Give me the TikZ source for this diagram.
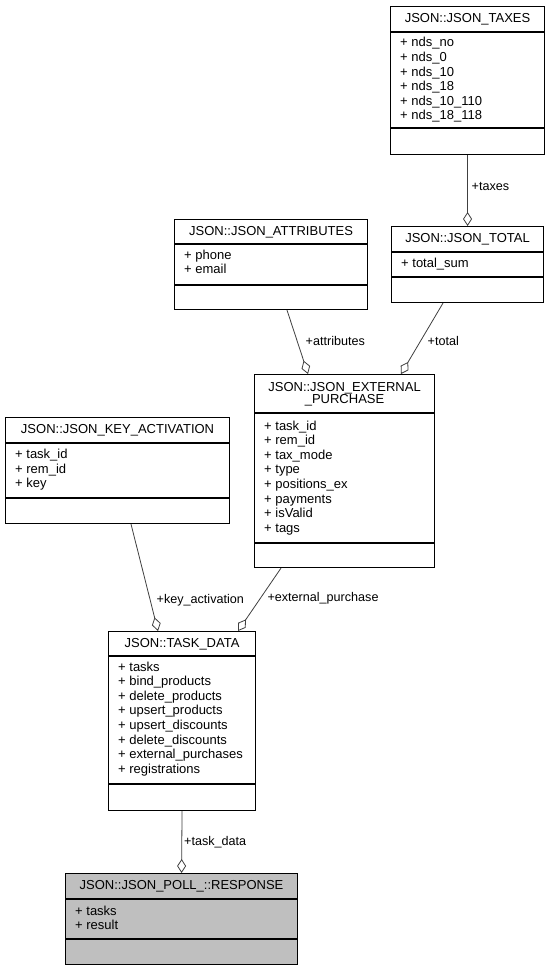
\documentclass[tikz,border=0pt]{standalone}
\usepackage{fontspec}
\setmainfont{Liberation Sans}
\usetikzlibrary{calc,arrows.meta}

\tikzset{
  frame/.style={draw=black, line width=1.1pt},
  classtitle/.style={inner sep=0pt, anchor=base, font=\fontsize{13}{11.5}\selectfont},
  member/.style={inner sep=0pt, anchor=base west, font=\fontsize{13}{14.6}\selectfont},
  rolelabel/.style={inner sep=0pt, anchor=base west, font=\fontsize{12.6}{14}\selectfont},
  assoc/.style={draw=black!75, line width=0.8pt,
    -{Diamond[open, length=14pt, width=9pt, line width=0.8pt]}},
}

% class box: name, x, y, width, height, title-row height, offset of the second divider
\newcommand\umlframe[8][]{%
  \node[frame, #1, minimum width=#5pt, minimum height=#6pt, anchor=north west,
        inner sep=0pt] (#2) at (#3,#4) {};
  \draw[frame] ($(#2.north west)+(0,#7)$) -- ($(#2.north east)+(0,#7)$);
  \draw[frame] ($(#2.north west)+(0,#8)$) -- ($(#2.north east)+(0,#8)$);
}
% member list: box name, baseline offset of the first entry, entries
\newcommand\umlmembers[3]{%
  \foreach \m [count=\i from 0] in {#3}
    \node[member] (#1-m\i) at ($(#1.north west)+(10,#2+14.6*\i)$) {+ \m};
}

\begin{document}
\begin{tikzpicture}[x=1pt, y=-1pt]
\useasboundingbox[fill=white] (0,0) rectangle (549,971);

% JSON_TAXES
\umlframe{taxes}{390}{6}{154}{148}{26}{122}
\node[classtitle] (taxes-t) at ($(taxes.north)+(0,16.5)$) {JSON::JSON\_TAXES};
\umlmembers{taxes}{41}{nds\_no, nds\_0, nds\_10, nds\_18, nds\_10\_110, nds\_18\_118}

% JSON_TOTAL
\umlframe{total}{391}{226}{152}{76}{26}{51}
\node[classtitle] (total-t) at ($(total.north)+(0,16.5)$) {JSON::JSON\_TOTAL};
\umlmembers{total}{41.5}{total\_sum}

% JSON_ATTRIBUTES
\umlframe{attr}{174}{219}{193}{90}{25}{66}
\node[classtitle] (attr-t) at ($(attr.north)+(0,16.5)$) {JSON::JSON\_ATTRIBUTES};
\umlmembers{attr}{40}{phone, email}

% JSON_EXTERNAL_PURCHASE
\umlframe{ext}{254}{374}{180}{193}{39}{169}
\node[classtitle] (ext-t1) at ($(ext.north)+(0,17.7)$) {JSON::JSON\_EXTERNAL};
\node[classtitle] (ext-t2) at ($(ext.north)+(0,29)$) {\_PURCHASE};
\umlmembers{ext}{56}{task\_id, rem\_id, tax\_mode, type, positions\_ex, payments, isValid, tags}

% JSON_KEY_ACTIVATION
\umlframe{key}{5}{417}{224}{106}{26}{81}
\node[classtitle] (key-t) at ($(key.north)+(0,16.5)$) {JSON::JSON\_KEY\_ACTIVATION};
\umlmembers{key}{41.5}{task\_id, rem\_id, key}

% TASK_DATA
\umlframe{task}{108}{631}{147}{179}{25}{153}
\node[classtitle] (task-t) at ($(task.north)+(0,16.3)$) {JSON::TASK\_DATA};
\umlmembers{task}{40}{tasks, bind\_products, delete\_products, upsert\_products, upsert\_discounts, delete\_discounts, external\_purchases, registrations}

% JSON_POLL_::RESPONSE
\umlframe[fill=black!25]{resp}{65}{873}{232}{91}{26}{66}
\node[classtitle] (resp-t) at ($(resp.north)+(0,16.5)$) {JSON::JSON\_POLL\_::RESPONSE};
\umlmembers{resp}{42}{tasks, result}

% associations (aggregation diamonds at the owning class)
\draw[assoc] (taxes.south) -- (total.north);
\draw[assoc] ($(attr.south west)+(113,0)$) -- ($(ext.north west)+(54,0)$);
\draw[assoc] ($(total.south west)+(52,0)$) -- ($(ext.north west)+(147,0)$);
\draw[assoc] ($(key.south west)+(126,0)$) -- ($(task.north west)+(50,0)$);
\draw[assoc] ($(ext.south west)+(27,0)$) -- ($(task.north west)+(130,0)$);
\draw[assoc] (task.south) -- (resp.north);

% role names
\node[rolelabel] (l-taxes) at (471.5,190.5) {+taxes};
\node[rolelabel] (l-attr) at (305.5,345) {+attributes};
\node[rolelabel] (l-total) at (427.5,345) {+total};
\node[rolelabel] (l-key) at (156.5,603.5) {+key\_activation};
\node[rolelabel] (l-ext) at (267.3,601) {+external\_purchase};
\node[rolelabel] (l-task) at (184,845) {+task\_data};
\end{tikzpicture}
\end{document}
